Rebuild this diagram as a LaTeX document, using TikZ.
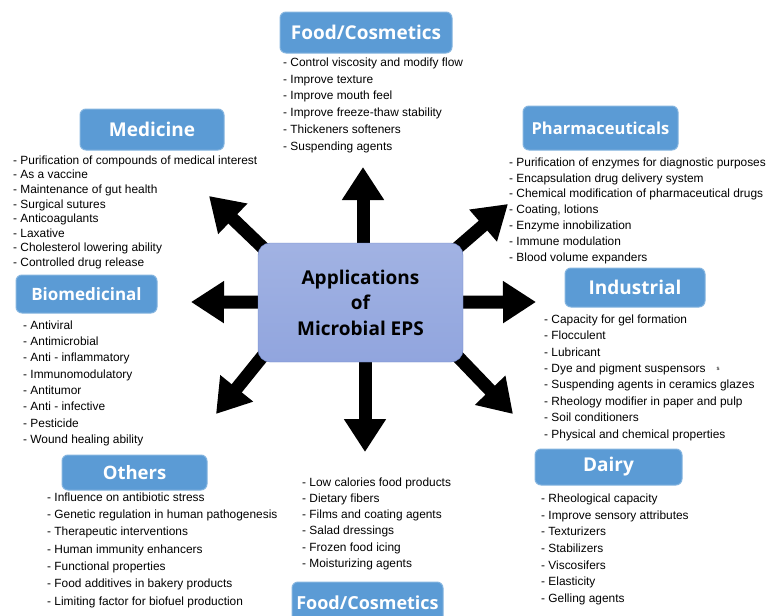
\documentclass[tikz,border=0pt]{standalone}
\usepackage{fontspec}
\setmainfont{Liberation Sans}
\newfontfamily\hdrfont{Open Sans}
\usetikzlibrary{arrows.meta,positioning,calc,backgrounds}
\definecolor{hdrblue}{RGB}{91,155,213}
\definecolor{ctrfill}{RGB}{145,165,222}
\definecolor{ctrline}{RGB}{110,132,200}
\tikzset{
    head/.style={draw=hdrblue!75!white,fill=hdrblue,rounded corners=6pt,line width=1pt,
        text=white,inner sep=0pt,font=\hdrfont\bfseries\fontsize{#1}{#1}\selectfont},
    head/.default=18,
    items/.style={anchor=north west,inner sep=0pt,align=left,font=\fontsize{11.9}{#1}\selectfont},
    items/.default=16.4,
    bigarrow/.style={-{Triangle[length=33pt,width=40pt]},line width=13pt}
}

\begin{document}
\begin{tikzpicture}[x=1pt,y=-1pt]
    \useasboundingbox (0,0) rectangle (769,616);
    % centre box
    \node[draw=ctrline,top color=ctrfill!85!white,bottom color=ctrfill,rounded corners=12pt,
        minimum width=205pt,minimum height=119pt,align=center,
        font=\hdrfont\bfseries\fontsize{19}{25.5}\selectfont] (ctr) at (360.5,302.5)
        {Applications\\of\\Microbial EPS};
    % arrow tips
    \coordinate (tipN) at (363,167);
    \coordinate (tipS) at (365,452);
    \coordinate (tipW) at (191,302);
    \coordinate (tipE) at (536,302);
    \coordinate (tipNW) at (209,196);
    \coordinate (tipNE) at (508,204);
    \coordinate (tipSW) at (216,414);
    \coordinate (tipSE) at (513,414);
    \begin{scope}[on background layer]
        \draw[bigarrow] (tipN |- ctr) -- (tipN);
        \draw[bigarrow] (tipS |- ctr) -- (tipS);
        \draw[bigarrow] (ctr) -- (tipW);
        \draw[bigarrow] (ctr) -- (tipE);
        \draw[bigarrow] ($(ctr.north west)!-25pt!(tipNW)$) -- (tipNW);
        \draw[bigarrow] ($(ctr.north east)!-25pt!(tipNE)$) -- (tipNE);
        \draw[bigarrow] ($(ctr.south west)!-25pt!(tipSW)$) -- (tipSW);
        \draw[bigarrow] ($(ctr.south east)!-25pt!(tipSE)$) -- (tipSE);
    \end{scope}
    % headings
    \node[head=19,minimum width=172pt,minimum height=41pt] (foodtop) at (366,32.5) {Food/Cosmetics};
    \node[head=19,minimum width=144pt,minimum height=41pt] (medicine) at (152,129.5) {Medicine};
    \node[head=16.5,minimum width=155pt,minimum height=44pt] (pharma) at (600.5,128) {Pharmaceuticals};
    \node[head=17,minimum width=141pt,minimum height=38pt] (biomed) at (86.5,294) {Biomedicinal};
    \node[head=19,minimum width=140pt,minimum height=39pt] (industrial) at (635,287.5) {Industrial};
    \node[head=18.5,minimum width=145pt,minimum height=35pt] (others) at (134.5,472.5) {Others};
    \node[head=19,minimum width=147pt,minimum height=36pt] (dairy) at (608.5,467) {Dairy};
    \node[head=18,minimum width=151pt,minimum height=42pt] (foodbot) at (367.5,603) {Food/Cosmetics};
    % lists
    \node[items=16.8] (foodtoplist) at (283,57.5) {- Control viscosity and modify flow\\- Improve texture\\- Improve mouth feel\\- Improve freeze-thaw stability\\- Thickeners softeners\\- Suspending agents};
    \node[items=14.6] (medlist) at (13,155.5) {- Purification of compounds of medical interest\\- As a vaccine\\- Maintenance of gut health\\- Surgical sutures\\- Anticoagulants\\- Laxative\\- Cholesterol lowering ability\\- Controlled drug release};
    \node[items=15.8] (pharmalist) at (509,157.5) {- Purification of enzymes for diagnostic purposes\\- Encapsulation drug delivery system\\- Chemical modification of pharmaceutical drugs\\- Coating, lotions\\- Enzyme innobilization\\- Immune modulation\\- Blood volume expanders};
    \node[items=16.3] (biomedlist) at (23,320.5) {- Antiviral\\- Antimicrobial\\- Anti - inflammatory\\- Immunomodulatory\\- Antitumor\\- Anti - infective\\- Pesticide\\- Wound healing ability};
    \node[items=16.4] (induslist) at (544,314.5) {- Capacity for gel formation\\- Flocculent\\- Lubricant\\- Dye and pigment suspensors\\- Suspending agents in ceramics glazes\\- Rheology modifier in paper and pulp\\- Soil conditioners\\- Physical and chemical properties};
    \node[font=\fontsize{6}{6}\selectfont,inner sep=0pt] (stray) at (718,369) {s};
    \node[items=17.3] (otherslist) at (47,492.5) {- Influence on antibiotic stress\\- Genetic regulation in human pathogenesis\\- Therapeutic interventions\\- Human immunity enhancers\\- Functional properties\\- Food additives in bakery products\\- Limiting factor for biofuel production};
    \node[items=16.2] (foodbotlist) at (302,477.5) {- Low calories food products\\- Dietary fibers\\- Films and coating agents\\- Salad dressings\\- Frozen food icing\\- Moisturizing agents};
    \node[items=16.7] (dairylist) at (541,493.5) {- Rheological capacity\\- Improve sensory attributes\\- Texturizers\\- Stabilizers\\- Viscosifers\\- Elasticity\\- Gelling agents};
\end{tikzpicture}
\end{document}
